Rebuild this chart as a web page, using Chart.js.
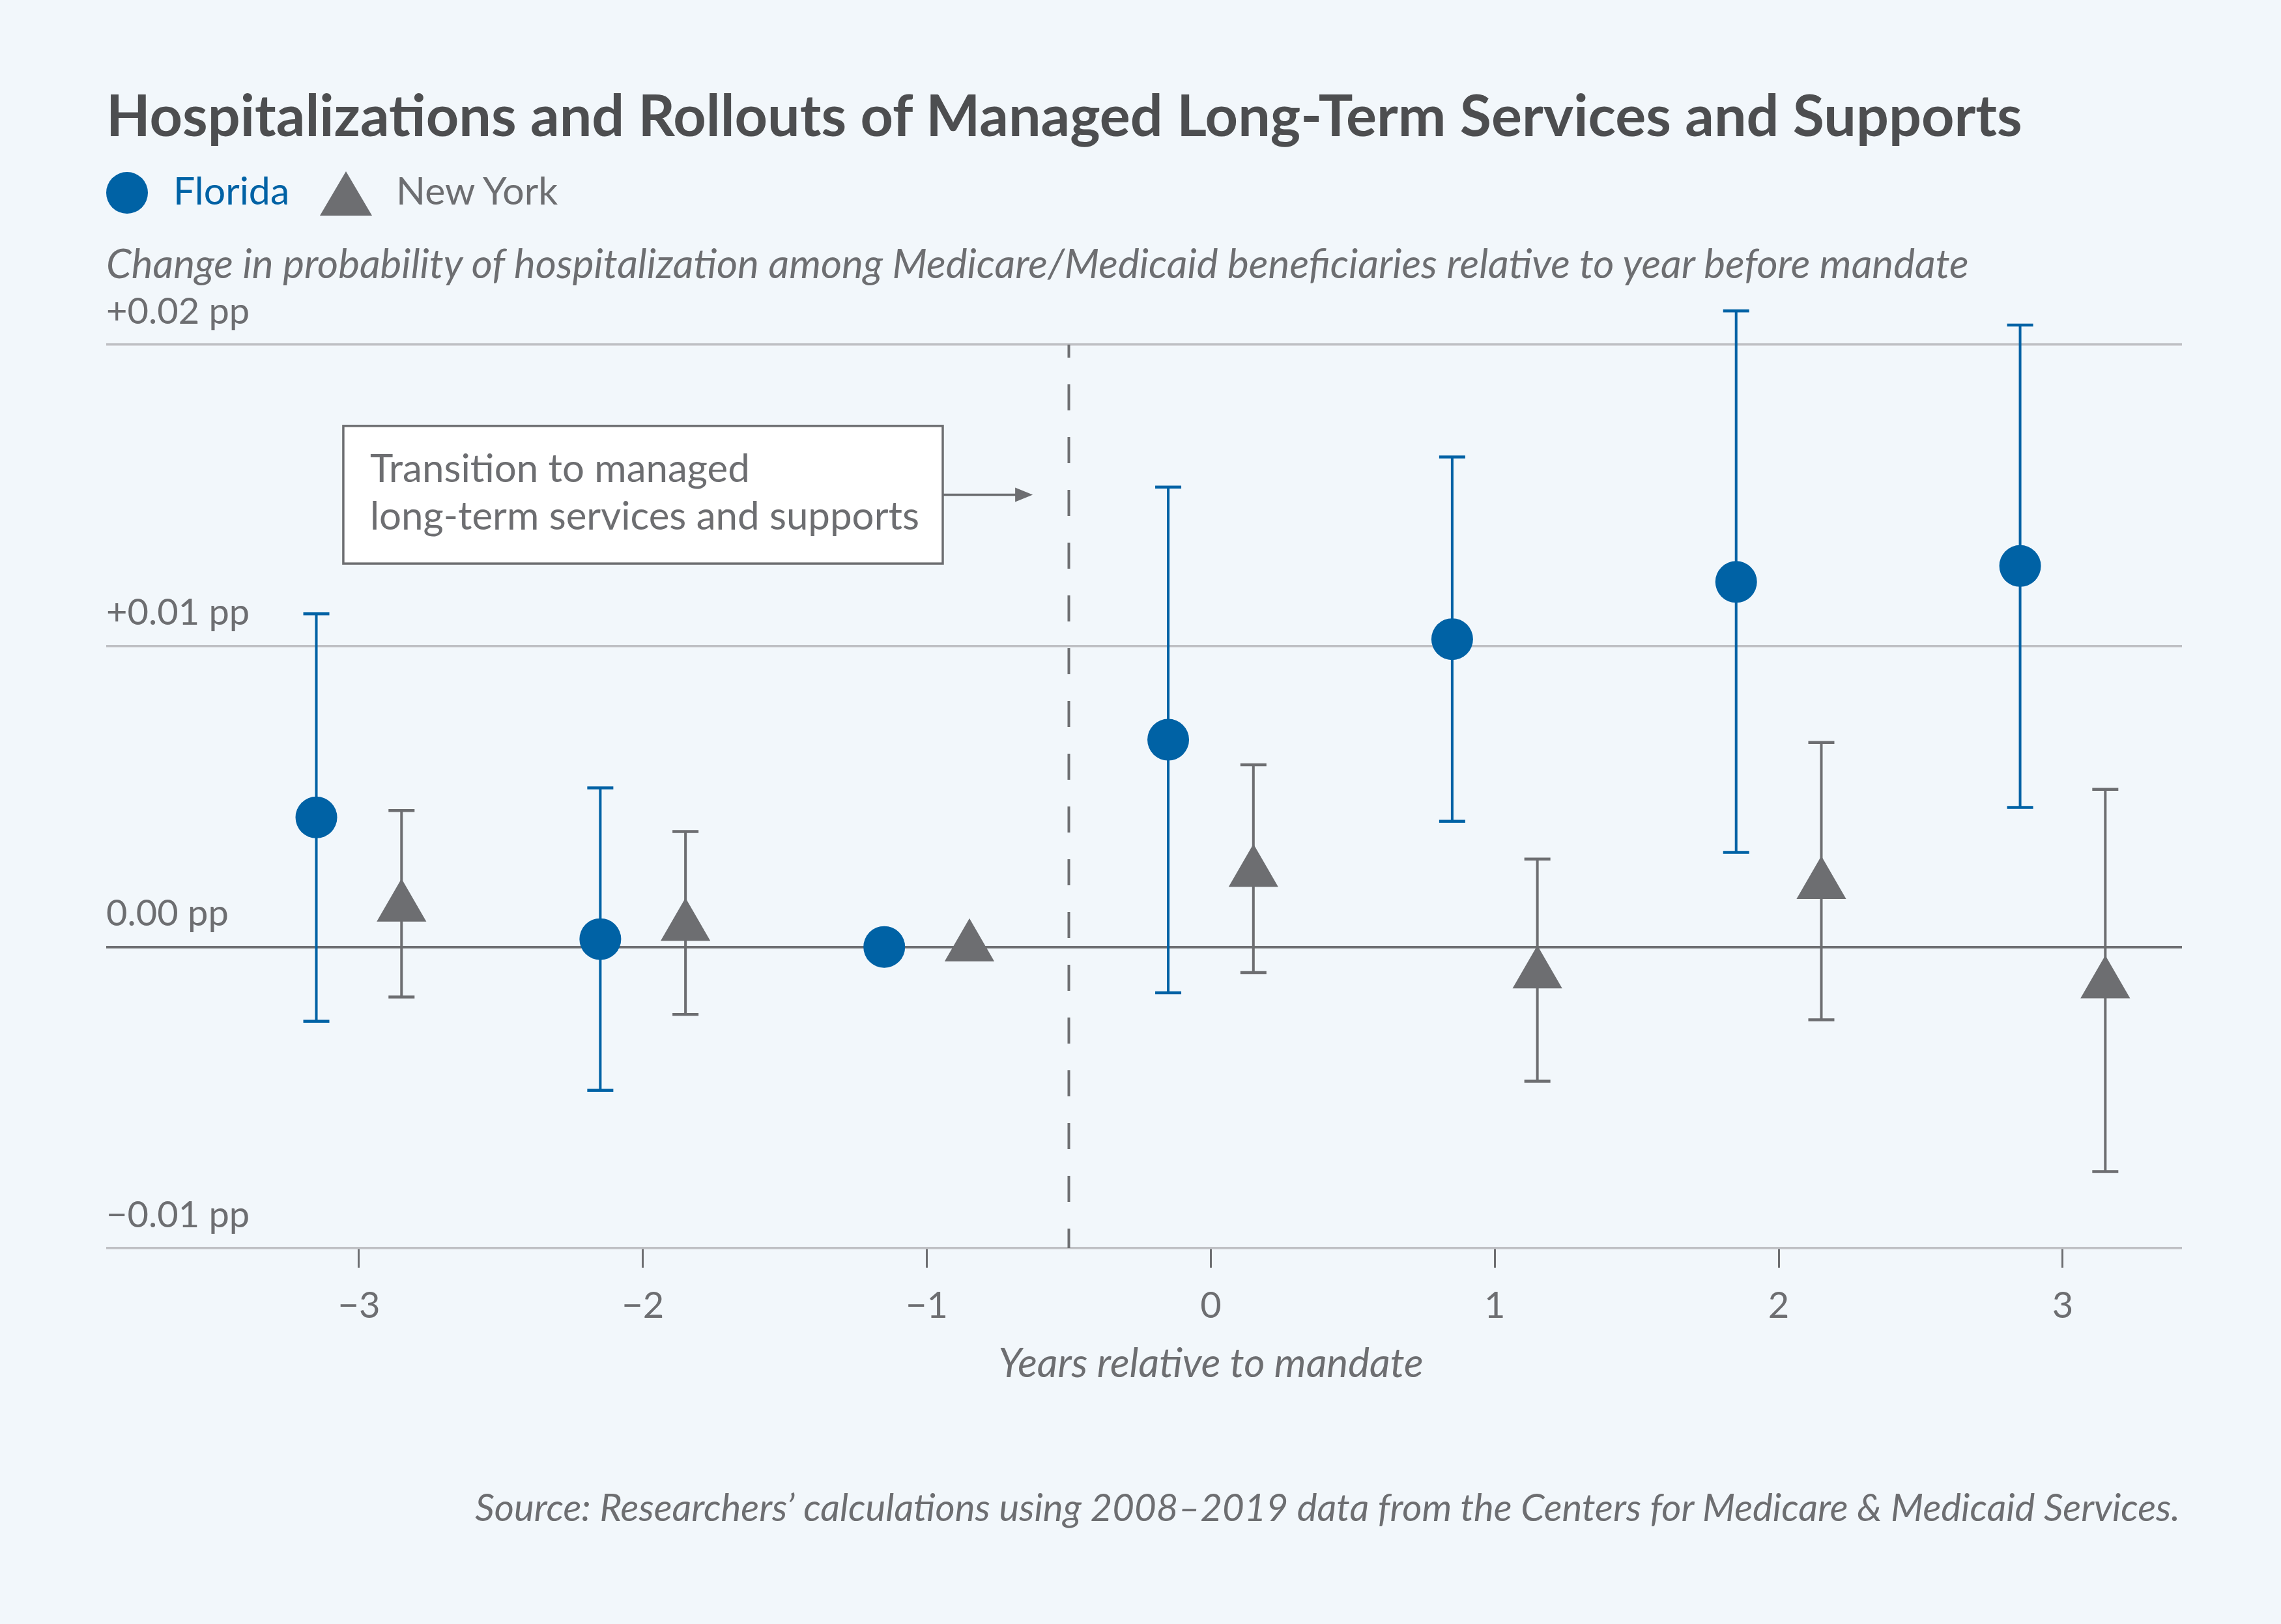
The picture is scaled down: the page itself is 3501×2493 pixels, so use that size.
<!DOCTYPE html>
<html>
<head>
<meta charset="utf-8">
<script src="https://cdn.jsdelivr.net/npm/chart.js@4.4.1/dist/chart.umd.min.js"></script>
<style>
  html, body { margin: 0; padding: 0; background: #f2f7fb; }
  #wrap { position: relative; width: 3501px; height: 2493px; background: #f2f7fb; overflow: hidden; font-family: Lato, "Noto Sans", sans-serif; }
  #chart { position: absolute; left: 0; top: 0; }
  .txt { position: absolute; line-height: 1; white-space: nowrap; margin: 0; }
  #title { left: 163px; top: 131px; font-size: 88px; font-weight: 700; color: #4d4e50; }
  #subtitle { left: 163px; top: 372px; font-size: 62px; font-style: italic; color: #6d6e71; }
  #source { right: 155px; top: 2284px; font-size: 58.2px; font-style: italic; color: #6d6e71; }
  .leg { top: 262px; font-size: 59px; }
  #legFL { left: 266px; color: #0062a5; }
  #legNY { left: 608px; color: #6d6e71; }
  #legMarks { position: absolute; left: 0; top: 0; }
</style>
</head>
<body>
<div id="wrap">
  <canvas id="chart" width="3501" height="2493"></canvas>
  <div class="txt" id="title">Hospitalizations and Rollouts of Managed Long-Term Services and Supports</div>
  <svg id="legMarks" width="700" height="400">
    <circle cx="195" cy="296" r="32" fill="#0062a5"></circle>
    <polygon points="531,263 571,331 491,331" fill="#6d6e71"></polygon>
  </svg>
  <div class="txt leg" id="legFL">Florida</div>
  <div class="txt leg" id="legNY">New York</div>
  <div class="txt" id="subtitle">Change in probability of hospitalization among Medicare/Medicaid beneficiaries relative to year before mandate</div>
  <div class="txt" id="source">Source: Researchers’ calculations using 2008–2019 data from the Centers for Medicare &amp; Medicaid Services.</div>
</div>
<script>
// ---- Data ----
const years = [-3, -2, -1, 0, 1, 2, 3];
const xTickLabels = ['−3', '−2', '−1', '0', '1', '2', '3'];
const xAxisTitle = 'Years relative to mandate';

const floridaEst  = [0.00430, 0.00026, 0.00000, 0.00688, 0.01022, 0.01212, 0.01265];
const floridaLow  = [-0.00247, -0.00476, null, -0.00152, 0.00417, 0.00314, 0.00463];
const floridaHigh = [0.01106, 0.00528, null, 0.01527, 0.01627, 0.02112, 0.02065];

const nyEst  = [0.00132, 0.00068, 0.00000, 0.00247, -0.00090, 0.00207, -0.00123];
const nyLow  = [-0.00166, -0.00224, null, -0.00085, -0.00446, -0.00242, -0.00746];
const nyHigh = [0.00453, 0.00383, null, 0.00605, 0.00292, 0.00679, 0.00523];

const yTickValues = [-0.01, 0, 0.01, 0.02];
const yTickLabels = ['−0.01 pp', '0.00 pp', '+0.01 pp', '+0.02 pp'];

const mandateX = -0.5;
const annotationLines = ['Transition to managed', 'long-term services and supports'];
const annotationBox = { xMin: -3.055, xMax: -0.944, yMin: 0.01273, yMax: 0.0173, arrowTo: -0.627 };

// ---- Styling ----
const BLUE = '#0062a5';
const GRAY = '#6d6e71';
const GRID = '#bfc0c4';
const FONT = 'Lato';
const seriesOffset = 0.15;

Chart.defaults.font.family = FONT;

const errorBars = {
  id: 'errorBars',
  beforeDatasetsDraw(chart) {
    const { ctx, scales: { x, y } } = chart;
    // vertical dashed line at mandate
    ctx.save();
    ctx.strokeStyle = GRAY;
    ctx.lineWidth = 4;
    ctx.setLineDash([40, 41]);
    ctx.lineDashOffset = 20;
    const xm = x.getPixelForValue(mandateX);
    ctx.beginPath();
    ctx.moveTo(xm, y.getPixelForValue(y.max));
    ctx.lineTo(xm, y.getPixelForValue(y.min));
    ctx.stroke();
    ctx.restore();

    // annotation box
    ctx.save();
    const bx1 = x.getPixelForValue(annotationBox.xMin);
    const bx2 = x.getPixelForValue(annotationBox.xMax);
    const by1 = y.getPixelForValue(annotationBox.yMax);
    const by2 = y.getPixelForValue(annotationBox.yMin);
    ctx.fillStyle = '#ffffff';
    ctx.fillRect(bx1, by1, bx2 - bx1, by2 - by1);
    ctx.strokeStyle = GRAY;
    ctx.lineWidth = 3.5;
    ctx.strokeRect(bx1, by1, bx2 - bx1, by2 - by1);
    ctx.fillStyle = GRAY;
    ctx.font = '60px ' + FONT;
    ctx.textBaseline = 'alphabetic';
    ctx.textAlign = 'left';
    ctx.fillText(annotationLines[0], bx1 + 41, by1 + 86);
    ctx.fillText(annotationLines[1], bx1 + 41, by1 + 159);
    // arrow
    const ay = (by1 + by2) / 2;
    const ax2 = x.getPixelForValue(annotationBox.arrowTo);
    ctx.lineWidth = 3.5;
    ctx.beginPath();
    ctx.moveTo(bx2, ay);
    ctx.lineTo(ax2 - 20, ay);
    ctx.stroke();
    ctx.beginPath();
    ctx.moveTo(ax2, ay);
    ctx.lineTo(ax2 - 27, ay - 11);
    ctx.lineTo(ax2 - 27, ay + 11);
    ctx.closePath();
    ctx.fill();
    ctx.restore();

    // x axis title, centred on year 0
    ctx.save();
    ctx.fillStyle = GRAY;
    ctx.font = 'italic 62px ' + FONT;
    ctx.textAlign = 'center';
    ctx.textBaseline = 'alphabetic';
    ctx.fillText(xAxisTitle, x.getPixelForValue(0), 2114);
    ctx.restore();

    // error bars
    chart.data.datasets.forEach((ds, d) => {
      const meta = chart.getDatasetMeta(d);
      ctx.save();
      ctx.strokeStyle = ds.backgroundColor;
      meta.data.forEach((pt, i) => {
        const lo = ds.errLow[i], hi = ds.errHigh[i];
        if (lo == null || hi == null) return;
        const px = pt.x;
        const yl = y.getPixelForValue(lo);
        const yh = y.getPixelForValue(hi);
        ctx.lineWidth = 4;
        ctx.beginPath();
        ctx.moveTo(px, yl);
        ctx.lineTo(px, yh);
        ctx.stroke();
        ctx.lineWidth = 4.5;
        ctx.beginPath();
        ctx.moveTo(px - 20, yl); ctx.lineTo(px + 20, yl);
        ctx.moveTo(px - 20, yh); ctx.lineTo(px + 20, yh);
        ctx.stroke();
      });
      ctx.restore();
    });
  }
};

new Chart(document.getElementById('chart'), {
  type: 'scatter',
  data: {
    datasets: [
      {
        label: 'Florida',
        data: years.map((yr, i) => ({ x: yr - seriesOffset, y: floridaEst[i] })),
        errLow: floridaLow,
        errHigh: floridaHigh,
        backgroundColor: BLUE,
        borderColor: BLUE,
        borderWidth: 0,
        pointStyle: 'circle',
        pointRadius: 32,
        pointHoverRadius: 32,
        clip: false
      },
      {
        label: 'New York',
        data: years.map((yr, i) => ({ x: yr + seriesOffset, y: nyEst[i] })),
        errLow: nyLow,
        errHigh: nyHigh,
        backgroundColor: GRAY,
        borderColor: GRAY,
        borderWidth: 0,
        pointStyle: 'triangle',
        pointRadius: 44,
        pointHoverRadius: 44,
        clip: false
      }
    ]
  },
  options: {
    responsive: false,
    animation: false,
    events: [],
    layout: { padding: { left: 163, right: 152, top: 529, bottom: 317 } },
    plugins: { legend: { display: false }, tooltip: { enabled: false } },
    scales: {
      x: {
        type: 'linear',
        min: -3.89,
        max: 3.42,
        afterBuildTicks: s => { s.ticks = years.map(v => ({ value: v })); },
        afterFit: s => { s.height = 260; },
        ticks: {
          callback: v => xTickLabels[years.indexOf(v)],
          font: { family: FONT, size: 56 },
          color: GRAY,
          padding: 25,
          maxRotation: 0,
          autoSkip: false
        },
        grid: { drawOnChartArea: false, drawTicks: true, tickLength: 30, color: GRAY, lineWidth: 3 },
        border: { display: false },
        title: { display: false }
      },
      y: {
        min: -0.01,
        max: 0.02,
        afterBuildTicks: s => { s.ticks = yTickValues.map(v => ({ value: v })); },
        afterFit: s => { s.width = 0; },
        ticks: {
          mirror: true,
          padding: 0,
          labelOffset: -50.5,
          callback: v => yTickLabels[yTickValues.indexOf(v)],
          font: { family: FONT, size: 56 },
          color: GRAY
        },
        grid: {
          drawTicks: false,
          color: c => (c.tick && c.tick.value === 0 ? GRAY : GRID),
          lineWidth: c => (c.tick && c.tick.value === 0 ? 4 : 3.5)
        },
        border: { display: false }
      }
    }
  },
  plugins: [errorBars]
});
</script>
</body>
</html>
